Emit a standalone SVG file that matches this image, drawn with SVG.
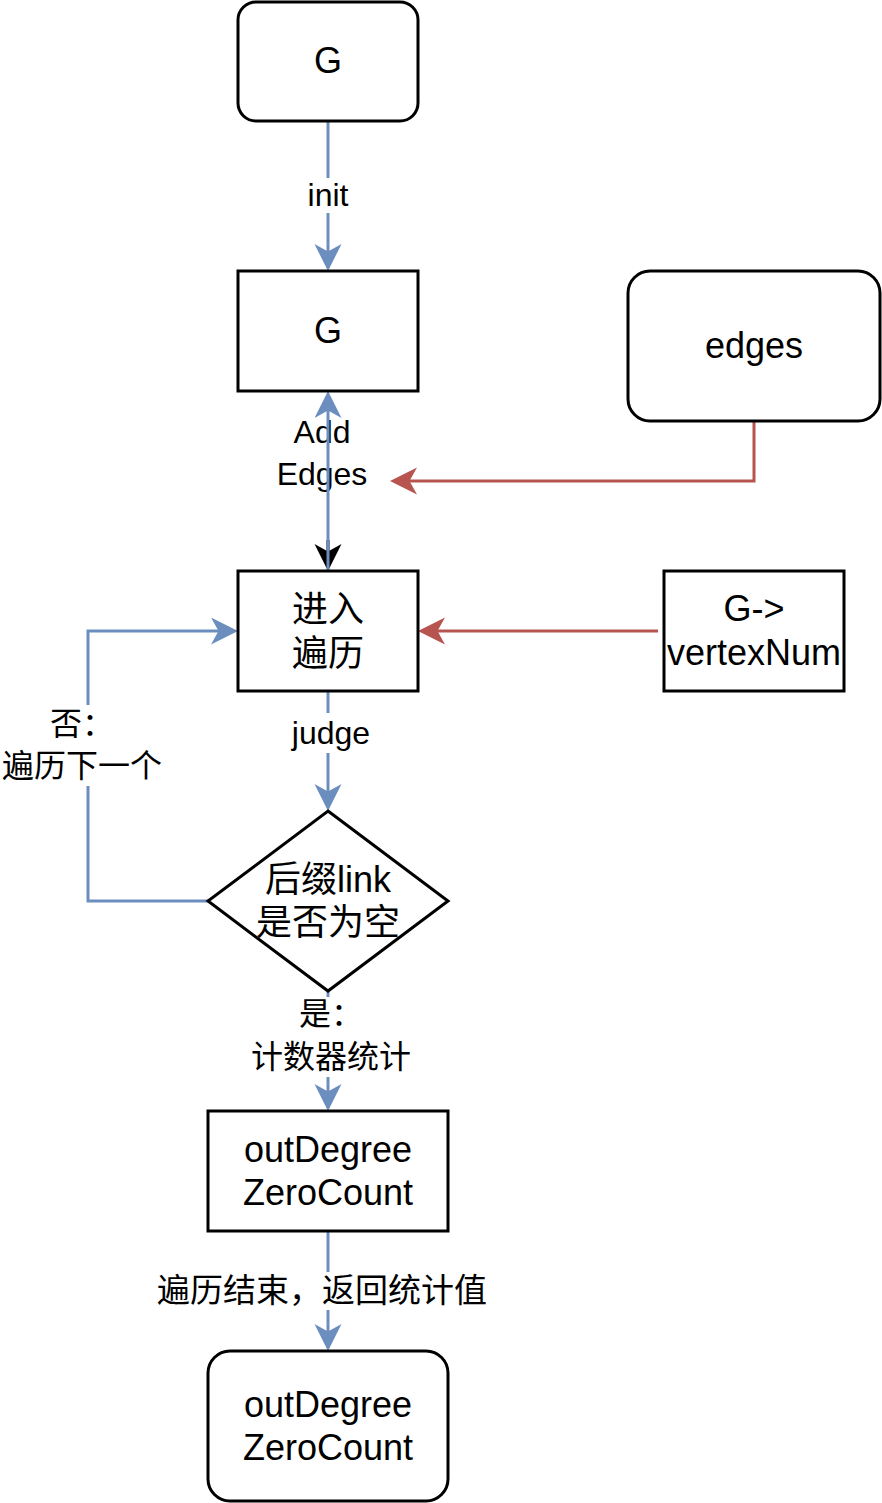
<svg xmlns="http://www.w3.org/2000/svg" width="882" height="1503" viewBox="0 0 882 1503">
<style>
.n{fill:#fff;stroke:#000;stroke-width:3}
.t{font-family:"Liberation Sans","Noto Sans CJK SC",sans-serif;font-size:36px;text-anchor:middle;fill:#000}
.l{font-family:"Liberation Sans","Noto Sans CJK SC",sans-serif;font-size:32px;text-anchor:middle;fill:#000}
.b{fill:none;stroke:#6c8ebf;stroke-width:3}
.r{fill:none;stroke:#b85450;stroke-width:3}
.k{fill:none;stroke:#000;stroke-width:3}
.bg{fill:#fff}
</style>
<defs>
<marker id="ab" markerUnits="userSpaceOnUse" markerWidth="28" markerHeight="28" refX="9" refY="13.5" orient="auto"><path d="M27,13.5 L0,0 L7.5,13.5 L0,27 Z" fill="#6c8ebf"/></marker>
<marker id="ar" markerUnits="userSpaceOnUse" markerWidth="28" markerHeight="28" refX="9" refY="13.5" orient="auto"><path d="M27,13.5 L0,0 L7.5,13.5 L0,27 Z" fill="#b85450"/></marker>
<marker id="ak" markerUnits="userSpaceOnUse" markerWidth="28" markerHeight="28" refX="9" refY="13.5" orient="auto"><path d="M27,13.5 L0,0 L7.5,13.5 L0,27 Z" fill="#000"/></marker>
</defs>
<g id="connectors">
<path class="b" d="M328,121 V253" marker-end="url(#ab)"/>
<rect class="bg" x="300" y="178" width="56" height="35"/>
<text class="l" x="328" y="206">init</text>
<text class="l" x="322" y="443">Add</text>
<text class="l" x="322" y="485">Edges</text>
<path class="k" d="M328,540 V553" marker-end="url(#ak)"/>
<path class="b" d="M328,571 V409" marker-end="url(#ab)"/>
<path class="r" d="M754,421 V481 H408" marker-end="url(#ar)"/>
<path class="r" d="M658,631 H436" marker-end="url(#ar)"/>
<path class="b" d="M328,691 V793" marker-end="url(#ab)"/>
<rect class="bg" x="288" y="713" width="84" height="40"/>
<text class="l" x="331" y="744">judge</text>
<path class="b" d="M208,901 H88 V631 H220" marker-end="url(#ab)"/>
<rect class="bg" x="0" y="705" width="166" height="81"/>
<text class="l" x="82" y="735">否：</text>
<text class="l" x="82" y="777">遍历下一个</text>
<path class="b" d="M328,991 V1093" marker-end="url(#ab)"/>
<rect class="bg" x="248" y="997" width="166" height="80"/>
<text class="l" x="331" y="1025">是：</text>
<text class="l" x="331" y="1068">计数器统计</text>
<path class="b" d="M328,1231 V1333" marker-end="url(#ab)"/>
<rect class="bg" x="156" y="1272" width="334" height="38"/>
<text class="l" x="322" y="1302" style="font-size:33px">遍历结束，返回统计值</text>
</g>
<g id="g-init"><rect class="n" x="238" y="2" width="180" height="119" rx="18"/><text class="t" x="328" y="73">G</text></g>
<g id="g"><rect class="n" x="238" y="271" width="180" height="120"/><text class="t" x="328" y="343">G</text></g>
<g id="edges"><rect class="n" x="628" y="271" width="252" height="150" rx="22"/><text class="t" x="754" y="358">edges</text></g>
<g id="traverse"><rect class="n" x="238" y="571" width="180" height="120"/><text class="t" x="328" y="622">进入</text><text class="t" x="328" y="666">遍历</text></g>
<g id="vertexnum"><rect class="n" x="664" y="571" width="180" height="120"/><text class="t" x="754" y="621">G-&gt;</text><text class="t" x="754" y="665">vertexNum</text></g>
<g id="decision"><path class="n" d="M328,811 L448,901 L328,991 L208,901 Z"/><text class="t" x="328" y="892">后缀link</text><text class="t" x="328" y="935">是否为空</text></g>
<g id="count"><rect class="n" x="208" y="1111" width="240" height="120"/><text class="t" x="328" y="1162">outDegree</text><text class="t" x="328" y="1205">ZeroCount</text></g>
<g id="result"><rect class="n" x="208" y="1351" width="240" height="150" rx="22"/><text class="t" x="328" y="1417">outDegree</text><text class="t" x="328" y="1460">ZeroCount</text></g>
</svg>
